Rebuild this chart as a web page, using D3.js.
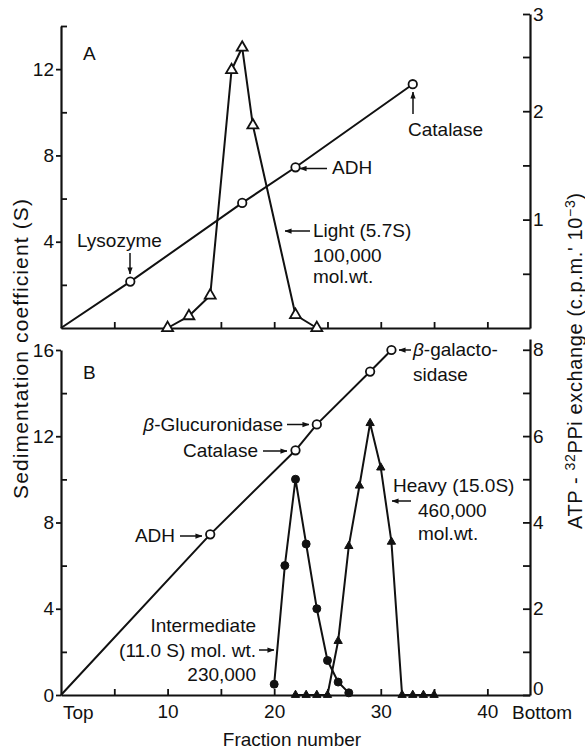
<!DOCTYPE html>
<html>
<head>
<meta charset="utf-8">
<script src="https://cdn.jsdelivr.net/npm/d3@7"></script>
<style>
  body { margin: 0; background: #fff; }
  svg { display: block; }
  text { font-family: "Liberation Sans", Arial, Helvetica, sans-serif; fill: #111; }
</style>
</head>
<body>
<svg id="chart" width="585" height="749"></svg>
<script>
// ---------- Panel A: light enzyme form ----------
const stdFractionA = [6.5, 17, 22, 33];          // marker proteins (fraction)
const stdSA        = [2.15, 5.8, 7.45, 11.3];    // sedimentation coefficient (S)
const lightFraction = [10, 12, 14, 16, 17, 18, 22, 24];
const lightCpm      = [0, 0.11, 0.30, 2.38, 2.61, 1.87, 0.12, 0]; // c.p.m. x 10^-3

// ---------- Panel B: intermediate and heavy forms ----------
const stdFractionB = [14, 22, 24, 29, 31];
const stdSB        = [7.45, 11.35, 12.55, 15.0, 16.0];
const interFraction = [20, 21, 22, 23, 24, 25, 26, 27];
const interCpm      = [0.25, 3.0, 5.0, 3.5, 2.0, 0.8, 0.3, 0.05];
const heavyFraction = [22, 23, 24, 25, 26, 27, 28, 29, 30, 31, 32, 33, 34, 35];
const heavyCpm      = [0, 0, 0, 0, 1.25, 3.45, 4.85, 6.3, 5.27, 3.55, 0, 0, 0, 0];

// ---------- Ticks ----------
const sMajorA = [4, 8, 12];
const sMinorA = [2, 6, 10, 14];
const cpmMajorA = [1, 2, 3];
const cpmMinorA = [0.5, 1.5, 2.5];
const sMajorB = [0, 4, 8, 12, 16];
const sMinorB = [2, 6, 10, 14];
const cpmMajorB = [0, 2, 4, 6, 8];
const cpmMinorB = [1, 3, 5, 7];
const fractionTicks = [5, 10, 15, 20, 25, 30, 35, 40];
const fractionLabels = [10, 20, 30, 40];

const svg = d3.select("#chart");
const FS = 19;

// ---------- Scales ----------
const x = d3.scaleLinear().domain([0, 44]).range([61, 530]);
const yA = d3.scaleLinear().domain([0, 14]).range([328, 26]);
const yAr = d3.scaleLinear().domain([0, 2.5, 3]).range([328, 57, 14]);
const yB = d3.scaleLinear().domain([0, 16]).range([695, 350]);
const yBr = d3.scaleLinear().domain([0, 8.25]).range([695, 339]);

// ---------- Axes ----------
function styleAxis(g) {
  g.attr("font-size", FS);
  g.selectAll("path.domain").attr("stroke", "#111").attr("stroke-width", 2.2);
  g.selectAll(".tick line").attr("stroke", "#111").attr("stroke-width", 1.8);
  g.selectAll(".tick text").attr("fill", "#111");
}
function leftAxis(yScale, major, minor) {
  const g = svg.append("g").attr("transform", `translate(${x(0)},0)`);
  g.call(d3.axisLeft(yScale).tickValues(major).tickSize(5).tickPadding(2)
    .tickSizeOuter(0).tickFormat(d3.format("d")));
  styleAxis(g);
  const m = svg.append("g").attr("transform", `translate(${x(0)},0)`);
  m.call(d3.axisRight(yScale).tickValues(minor).tickSize(6).tickFormat(""));
  m.select("path.domain").remove();
  styleAxis(m);
}
function rightAxis(yScale, major, minor) {
  const g = svg.append("g").attr("transform", `translate(${x(44)},0)`);
  g.call(d3.axisRight(yScale).tickValues(major).tickSize(-7).tickPadding(3)
    .tickSizeOuter(0).tickFormat(d3.format("d")));
  styleAxis(g);
  const m = svg.append("g").attr("transform", `translate(${x(44)},0)`);
  m.call(d3.axisRight(yScale).tickValues(minor).tickSize(-7).tickFormat(""));
  m.select("path.domain").remove();
  styleAxis(m);
  return g;
}
function bottomAxis(y0, labelled) {
  const g = svg.append("g").attr("transform", `translate(0,${y0})`);
  g.call(d3.axisBottom(x).tickValues(fractionTicks).tickSize(-6).tickPadding(9.5)
    .tickSizeOuter(0).tickFormat(d => labelled && fractionLabels.includes(d) ? d : ""));
  styleAxis(g);
  return g;
}

bottomAxis(yA(0), false);
leftAxis(yA, sMajorA, sMinorA);
rightAxis(yAr, cpmMajorA, cpmMinorA);

bottomAxis(yB(0), true);
leftAxis(yB, sMajorB, sMinorB);
const rB = rightAxis(yBr, cpmMajorB, cpmMinorB);
// lift the zero label clear of the fraction-axis caption
rB.selectAll(".tick text").filter(d => d === 0).attr("dy", "-0.05em");

// ---------- Marks ----------
const lineGen = (xs, ys, ysc) => d3.line()(xs.map((f, i) => [x(f), ysc(ys[i])]));

function drawLine(xs, ys, ysc) {
  svg.append("path").attr("d", lineGen(xs, ys, ysc))
    .attr("fill", "none").attr("stroke", "#111").attr("stroke-width", 2)
    .attr("stroke-linejoin", "round");
}
function drawSymbols(xs, ys, ysc, type, size, filled) {
  svg.append("g").selectAll("path").data(xs).join("path")
    .attr("transform", (f, i) => `translate(${x(f)},${ysc(ys[i])})`)
    .attr("d", d3.symbol().type(type).size(size))
    .attr("fill", filled ? "#111" : "#fff")
    .attr("stroke", "#111").attr("stroke-width", filled ? 1 : 1.8);
}

// Standard calibration lines run from the origin (top of gradient)
drawLine([0, ...stdFractionA], [0, ...stdSA], yA);
drawLine(lightFraction, lightCpm, yAr);
drawSymbols(lightFraction, lightCpm, yAr, d3.symbolTriangle, 52, false);
drawSymbols(stdFractionA, stdSA, yA, d3.symbolCircle, 56, false);

drawLine([0, ...stdFractionB], [0, ...stdSB], yB);
drawLine(interFraction, interCpm, yBr);
drawLine(heavyFraction, heavyCpm, yBr);
drawSymbols(interFraction, interCpm, yBr, d3.symbolCircle, 50, true);
drawSymbols(heavyFraction, heavyCpm, yBr, d3.symbolTriangle, 30, true);
drawSymbols(stdFractionB, stdSB, yB, d3.symbolCircle, 56, false);

// ---------- Arrows ----------
svg.append("defs").append("marker")
  .attr("id", "head").attr("viewBox", "0 0 8 6")
  .attr("refX", 7.5).attr("refY", 3)
  .attr("markerWidth", 7).attr("markerHeight", 6)
  .attr("markerUnits", "userSpaceOnUse").attr("orient", "auto")
  .append("path").attr("d", "M0,0 L8,3 L0,6 Z").attr("fill", "#111");

function arrow(x1, y1, x2, y2) {
  svg.append("line").attr("x1", x1).attr("y1", y1).attr("x2", x2).attr("y2", y2)
    .attr("stroke", "#111").attr("stroke-width", 1.5).attr("marker-end", "url(#head)");
}
function label(tx, ty, str, anchor = "start") {
  return svg.append("text").attr("x", tx).attr("y", ty)
    .attr("font-size", FS).attr("text-anchor", anchor).text(str);
}

// Panel A annotations
label(83, 60, "A");
label(77, 247, "Lysozyme");
arrow(130, 253, 130, 274);
arrow(327, 168.5, 300, 168.5);
label(332, 174, "ADH");
arrow(413, 114, 413, 92);
label(408, 136, "Catalase");
arrow(310, 231, 285, 231);
label(313, 237, "Light (5.7S)");
label(313, 262, "100,000");
label(313, 283, "mol.wt.");

// Panel B annotations
label(83, 379, "B");
arrow(411, 350, 399, 350);
const gal = label(413, 356, "");
gal.append("tspan").attr("font-style", "italic").text("β");
gal.append("tspan").text("-galacto-");
label(413, 381, "sidase");

const glu = label(283, 431, "", "end");
glu.append("tspan").attr("font-style", "italic").text("β");
glu.append("tspan").text("-Glucuronidase");
arrow(287, 424.5, 309, 424.5);

label(258, 457, "Catalase", "end");
arrow(263, 451, 287, 451);

label(175, 542, "ADH", "end");
arrow(180, 536, 202, 536);

label(256, 632, "Intermediate", "end");
label(256, 657, "(11.0 S) mol. wt.", "end");
arrow(259, 650, 274, 650);
label(256, 681, "230,000", "end");

label(393, 492, "Heavy (15.0S)");
arrow(411, 501, 392, 501);
label(418, 517, "460,000");
label(418, 540, "mol.wt.");

// Axis end labels and titles
label(x(0) + 2, 719, "Top");
label(512, 719, "Bottom");
label(292, 746, "Fraction number", "middle");

svg.append("text")
  .attr("transform", "translate(28,349) rotate(-90)")
  .attr("font-size", 21).attr("text-anchor", "middle")
  .attr("textLength", 300).attr("lengthAdjust", "spacing")
  .text("Sedimentation coefficient (S)");

const rt = svg.append("text")
  .attr("transform", "translate(582,361) rotate(-90)")
  .attr("font-size", 20).attr("text-anchor", "middle")
  .attr("textLength", 336).attr("lengthAdjust", "spacing");
rt.append("tspan").text("ATP - ");
rt.append("tspan").attr("font-size", 14).attr("dy", -7).text("32");
rt.append("tspan").attr("dy", 7).text("PPi exchange (c.p.m.' 10");
rt.append("tspan").attr("font-size", 14).attr("dy", -7).text("−3");
rt.append("tspan").attr("dy", 7).text(")");
</script>
</body>
</html>
